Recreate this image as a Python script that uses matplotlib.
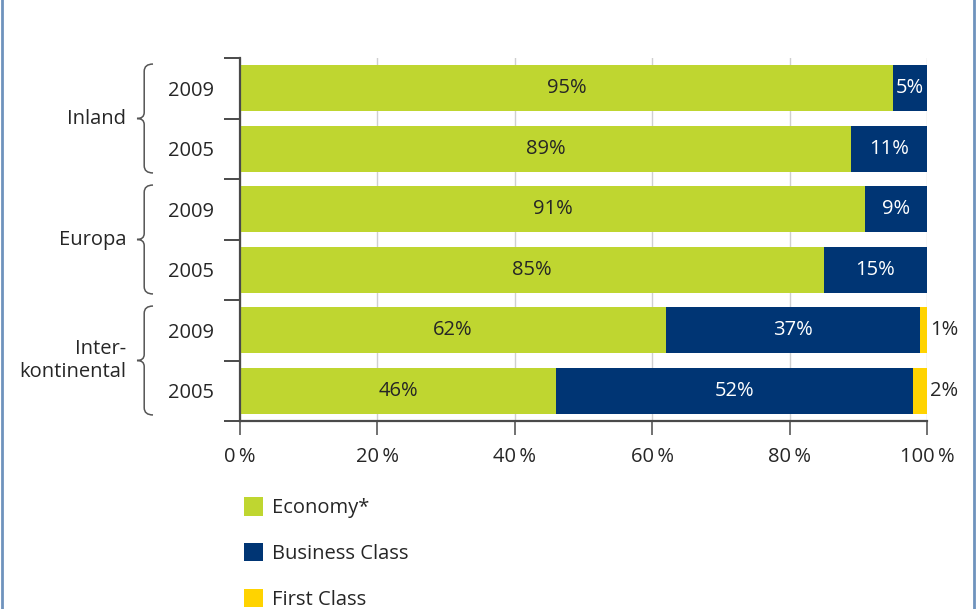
import numpy as np
import matplotlib.pyplot as plt
from matplotlib.patches import Patch
from matplotlib.path import Path
from matplotlib.patches import PathPatch
from matplotlib.lines import Line2D

plt.rcParams['font.family'] = ['Open Sans', 'DejaVu Sans']

years = ["2009", "2005", "2009", "2005", "2009", "2005"]
groups = ["Inland", "Europa", "Inter-\nkontinental"]
economy = [95, 89, 91, 85, 62, 46]
business = [5, 11, 9, 15, 37, 52]
first = [0, 0, 0, 0, 1, 2]
series_names = ["Economy*", "Business Class", "First Class"]
xticks = [0, 20, 40, 60, 80, 100]

GREEN = "#bfd630"
NAVY = "#003574"
YELLOW = "#ffd300"
TEXT = "#262626"
AXIS = "#4a4a4a"

W, H = 977, 609
fig = plt.figure(figsize=(W / 100, H / 100), dpi=100)
ax = fig.add_axes([240 / W, 1 - 421 / H, 687 / W, 363 / H])

y = np.arange(len(years))
bh = 0.76
ax.barh(y, economy, height=bh, color=GREEN, zorder=2)
ax.barh(y, business, left=economy, height=bh, color=NAVY, zorder=2)
left2 = np.array(economy) + np.array(business)
ax.barh(y, first, left=left2, height=bh, color=YELLOW, zorder=2)

fs = 14.5
for i in range(len(years)):
    ax.text(economy[i] / 2, y[i], f"{economy[i]}%", ha="center", va="center",
            color=TEXT, fontsize=fs, zorder=3)
    ax.text(economy[i] + business[i] / 2, y[i], f"{business[i]}%", ha="center",
            va="center", color="white", fontsize=fs, zorder=3)
    if first[i] > 0:
        ax.text(100.4, y[i], f"{first[i]}%", ha="left", va="center",
                color=TEXT, fontsize=fs, zorder=3, clip_on=False)

ax.set_xlim(0, 100)
ax.set_ylim(5.5, -0.5)
ax.set_xticks(xticks)
ax.set_xticklabels([f"{t}\u2009%" for t in xticks], fontsize=fs, color=TEXT)
ax.set_yticks(y)
ax.set_yticklabels(years, fontsize=fs, color=TEXT)
ax.set_yticks(np.arange(-0.5, 6, 1.0), minor=True)
ax.tick_params(axis="y", which="major", length=0, pad=19)
ax.tick_params(axis="y", which="minor", length=11.5, width=1.4, color=AXIS)
ax.tick_params(axis="x", length=10, width=1.1, color=AXIS, pad=9)
ax.grid(axis="x", color="#cfcfcf", linewidth=1.0, zorder=0)
ax.set_axisbelow(True)
for s in ["top", "right"]:
    ax.spines[s].set_visible(False)
for s in ["left", "bottom"]:
    ax.spines[s].set_color(AXIS)
    ax.spines[s].set_linewidth(1.6)

# group labels and curly braces
def brace(x_tip, x_end, y0, y1):
    ym = (y0 + y1) / 2
    xv = x_tip + 0.45 * (x_end - x_tip)
    verts = [(x_end, y0), (xv, y0), (xv, y0 + 0.12), (xv, y0 + 0.12),
             (xv, ym - 0.1), (xv, ym), (x_tip, ym),
             (xv, ym), (xv, ym + 0.1), (xv, y1 - 0.12),
             (xv, y1 - 0.12), (xv, y1), (x_end, y1)]
    codes = [Path.MOVETO, Path.CURVE3, Path.CURVE3, Path.LINETO,
             Path.LINETO, Path.CURVE3, Path.CURVE3,
             Path.CURVE3, Path.CURVE3, Path.LINETO,
             Path.LINETO, Path.CURVE3, Path.CURVE3]
    p = PathPatch(Path(verts, codes), fill=False, edgecolor="#555555",
                  linewidth=1.1, clip_on=False)
    ax.add_patch(p)

px = 100 / 687
for g, name in enumerate(groups):
    y0 = 2 * g - 0.4
    y1 = 2 * g + 1.4
    brace((137 - 240) * px, (153 - 240) * px, y0, y1)
    ax.text((126 - 240) * px, 2 * g + 0.5, name, ha="right", va="center",
            fontsize=fs, color=TEXT, clip_on=False, linespacing=1.2)

handles = [Patch(facecolor=GREEN), Patch(facecolor=NAVY), Patch(facecolor=YELLOW)]
fig.legend(handles, series_names, loc="upper left",
           bbox_to_anchor=(244 / W, 1 - 497 / H), frameon=False,
           borderpad=0, borderaxespad=0, handlelength=0.95, handleheight=1.05,
           handletextpad=0.45, labelspacing=1.22, fontsize=fs, labelcolor=TEXT)

# page border
fig.add_artist(Line2D([1.5 / W, 1.5 / W], [0, 1], color="#6f93bd", linewidth=2))
fig.add_artist(Line2D([974 / W, 974 / W], [0, 1], color="#6f93bd", linewidth=2))

fig.savefig("out.png", dpi=100)
